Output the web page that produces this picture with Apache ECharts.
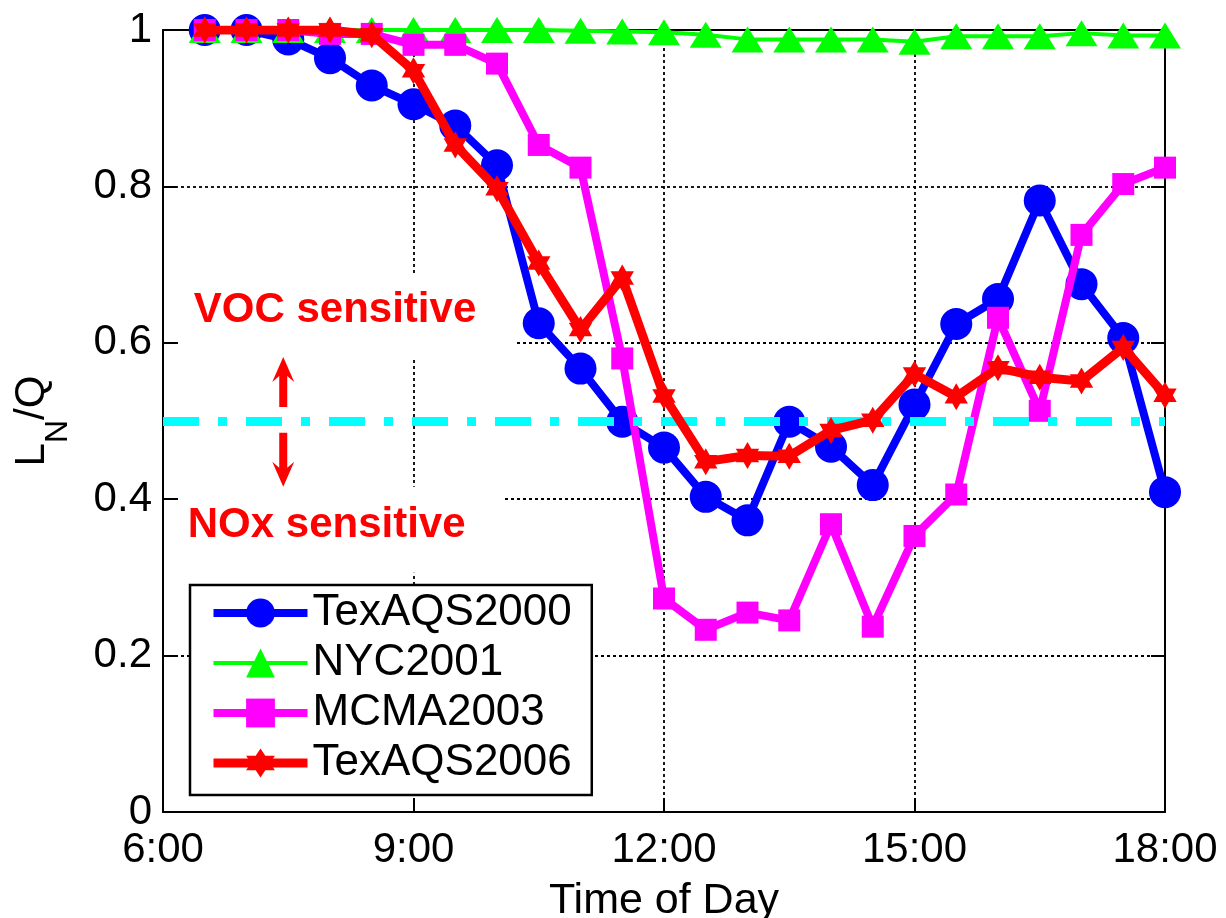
<!DOCTYPE html>
<html>
<head>
<meta charset="utf-8">
<script src="https://cdn.jsdelivr.net/npm/echarts@6/dist/echarts.min.js"></script>
<style>
html,body{margin:0;padding:0;background:#fff;}
#c{width:1226px;height:918px;}
</style>
</head>
<body>
<div id="c"></div>
<script>
// ---- data ----
const hours = [6.5,7,7.5,8,8.5,9,9.5,10,10.5,11,11.5,12,12.5,13,13.5,14,14.5,15,15.5,16,16.5,17,17.5,18];
const texaqs2000 = [1.0,1.0,0.988,0.964,0.929,0.905,0.878,0.827,0.625,0.567,0.499,0.466,0.403,0.373,0.499,0.467,0.418,0.521,0.624,0.656,0.782,0.675,0.606,0.409];
const nyc2001 = [1.0,1.0,1.0,1.0,1.0,1.0,1.0,1.0,1.0,0.999,0.998,0.997,0.994,0.988,0.988,0.988,0.988,0.985,0.992,0.992,0.992,0.996,0.993,0.993];
const mcma2003 = [1.0,1.0,1.0,0.995,0.995,0.981,0.981,0.957,0.853,0.824,0.58,0.273,0.233,0.255,0.245,0.368,0.237,0.353,0.406,0.632,0.513,0.738,0.803,0.824];
const texaqs2006 = [1.0,1.0,1.0,1.0,0.994,0.948,0.853,0.797,0.702,0.617,0.683,0.532,0.448,0.456,0.455,0.488,0.501,0.56,0.531,0.568,0.556,0.551,0.594,0.533];
const seriesNames = ['TexAQS2000','NYC2001','MCMA2003','TexAQS2006'];
const xTickLabels = ['6:00','9:00','12:00','15:00','18:00'];
const yTickLabels = ['0','0.2','0.4','0.6','0.8','1'];
const threshold = 0.5;

// ---- style ----
const FONT = '"Liberation Sans", Arial, Helvetica, sans-serif';
const zip = (xs, ys) => xs.map((x, i) => [x, ys[i]]);
const hexagram = 'path://M0,-10L-2.887,-5L-8.66,-5L-5.774,0L-8.66,5L-2.887,5L0,10L2.887,5L8.66,5L5.774,0L8.66,-5L2.887,-5Z';
const colors = ['#0000FF','#00FF00','#FF00FF','#FF0000'];
const widths = [8,4,8,9];

const axisLineStyle = {show:true, onZero:false, lineStyle:{color:'#000', width:2}};
const tickStyle = {show:true, inside:true, length:14, lineStyle:{color:'#000', width:2}};
const gridLine = {show:true, lineStyle:{color:'#000', width:1.8, type:[3,3]}};

const option = {
  animation:false,
  backgroundColor:'#fff',
  grid:{left:163, right:61, top:30, bottom:106, containLabel:false, outerBoundsMode:'none'},
  xAxis:[
    {type:'value', min:6, max:18, interval:3, position:'bottom',
     axisLine:axisLineStyle, axisTick:tickStyle,
     axisLabel:{color:'#000', fontSize:42, fontFamily:FONT, margin:17,
       formatter:v => xTickLabels[Math.round((v-6)/3)]},
     splitLine:gridLine,
     name:'Time of Day', nameLocation:'middle', nameGap:68, nameMoveOverlap:false,
     nameTextStyle:{color:'#000', fontSize:43, fontFamily:FONT}},
    {type:'value', min:6, max:18, interval:3, position:'top',
     axisLine:axisLineStyle, axisTick:tickStyle, axisLabel:{show:false}, splitLine:{show:false}}
  ],
  yAxis:[
    {type:'value', min:0, max:1, interval:0.2, position:'left',
     axisLine:axisLineStyle, axisTick:tickStyle,
     axisLabel:{color:'#000', fontSize:42, fontFamily:FONT, margin:11,
       formatter:v => yTickLabels[Math.round(v/0.2)]},
     splitLine:gridLine,
     name:'{m|L}{s|N}{m|/Q}', nameLocation:'middle', nameGap:89, nameRotate:90, nameMoveOverlap:false,
     nameTextStyle:{rich:{
       m:{fontSize:42, fontFamily:FONT, color:'#000', lineHeight:42, verticalAlign:'top'},
       s:{fontSize:32, fontFamily:FONT, color:'#000', lineHeight:63, verticalAlign:'bottom'}
     }}},
    {type:'value', min:0, max:1, interval:0.2, position:'right',
     axisLine:axisLineStyle, axisTick:tickStyle, axisLabel:{show:false}, splitLine:{show:false}}
  ],
  legend:{
    orient:'vertical', left:190, top:585, selectedMode:false,
    data:seriesNames.map((n, i) => ({name:n, lineStyle:{width:widths[i], color:colors[i]}})),
    backgroundColor:'#fff', borderColor:'#000', borderWidth:2.5,
    padding:[5,20,9,19], itemWidth:94, itemHeight:36, itemGap:4,
    textStyle:{color:'#000', fontSize:44, fontFamily:FONT, lineHeight:46}
  },
  series:[
    {name:'threshold', type:'line', data:[], z:1, silent:true,
     markLine:{silent:true, symbol:'none', label:{show:false},
       lineStyle:{color:'#00FFFF', width:9, type:[36,19,9,19]},
       data:[{yAxis:threshold}]}},
    {name:seriesNames[0], type:'line', z:2, data:zip(hours, texaqs2000),
     symbol:'circle', symbolSize:32,
     lineStyle:{color:colors[0], width:widths[0]}, itemStyle:{color:colors[0]}, emphasis:{disabled:true}},
    {name:seriesNames[1], type:'line', z:3, data:zip(hours, nyc2001),
     symbol:'triangle', symbolSize:[32,26],
     lineStyle:{color:colors[1], width:widths[1]}, itemStyle:{color:colors[1]}, emphasis:{disabled:true}},
    {name:seriesNames[2], type:'line', z:4, data:zip(hours, mcma2003),
     symbol:'rect', symbolSize:22,
     lineStyle:{color:colors[2], width:widths[2]}, itemStyle:{color:colors[2]}, emphasis:{disabled:true}},
    {name:seriesNames[3], type:'line', z:5, data:zip(hours, texaqs2006),
     symbol:hexagram, symbolSize:27, symbolKeepAspect:true,
     lineStyle:{color:colors[3], width:widths[3]}, itemStyle:{color:colors[3]}, emphasis:{disabled:true}}
  ]
};

const chart = echarts.init(document.getElementById('c'));
chart.setOption(option);

// ---- annotations placed in data coordinates ----
const px = (h, v) => chart.convertToPixel({xAxisIndex:0, yAxisIndex:0}, [h, v]);
function box(h0, v0, h1, v1) {
  const a = px(h0, v0), b = px(h1, v1);
  return {type:'rect', z:10, silent:true,
    shape:{x:Math.min(a[0],b[0]), y:Math.min(a[1],b[1]), width:Math.abs(b[0]-a[0]), height:Math.abs(b[1]-a[1])},
    style:{fill:'#fff'}};
}
function label(text, h, v) {
  const p = px(h, v);
  return {type:'text', z:11, silent:true, x:p[0], y:p[1],
    style:{text:text, fill:'#FF0000', font:'bold 42px ' + FONT, textAlign:'center', textVerticalAlign:'middle'}};
}
function arrow(h, vTail, vTip) {
  const t = px(h, vTail), p = px(h, vTip);
  const x = p[0], dir = p[1] < t[1] ? 1 : -1; // 1 = pointing up
  const yt = p[1], yb = t[1];
  const pts = [
    [x-4, yb], [x-4, yt + dir*19], [x-11, yt + dir*25], [x, yt],
    [x+11, yt + dir*25], [x+4, yt + dir*19], [x+4, yb]
  ];
  return {type:'polygon', z:12, silent:true, shape:{points:pts}, style:{fill:'#FF0000'}};
}
chart.setOption({graphic:[
  box(6.2, 0.689, 10.22, 0.581),
  box(6.2, 0.416, 10.06, 0.306),
  label('VOC sensitive', 8.06, 0.641),
  label('NOx sensitive', 7.96, 0.367),
  arrow(7.44, 0.518, 0.582),
  arrow(7.44, 0.485, 0.416)
]});
</script>
</body>
</html>
